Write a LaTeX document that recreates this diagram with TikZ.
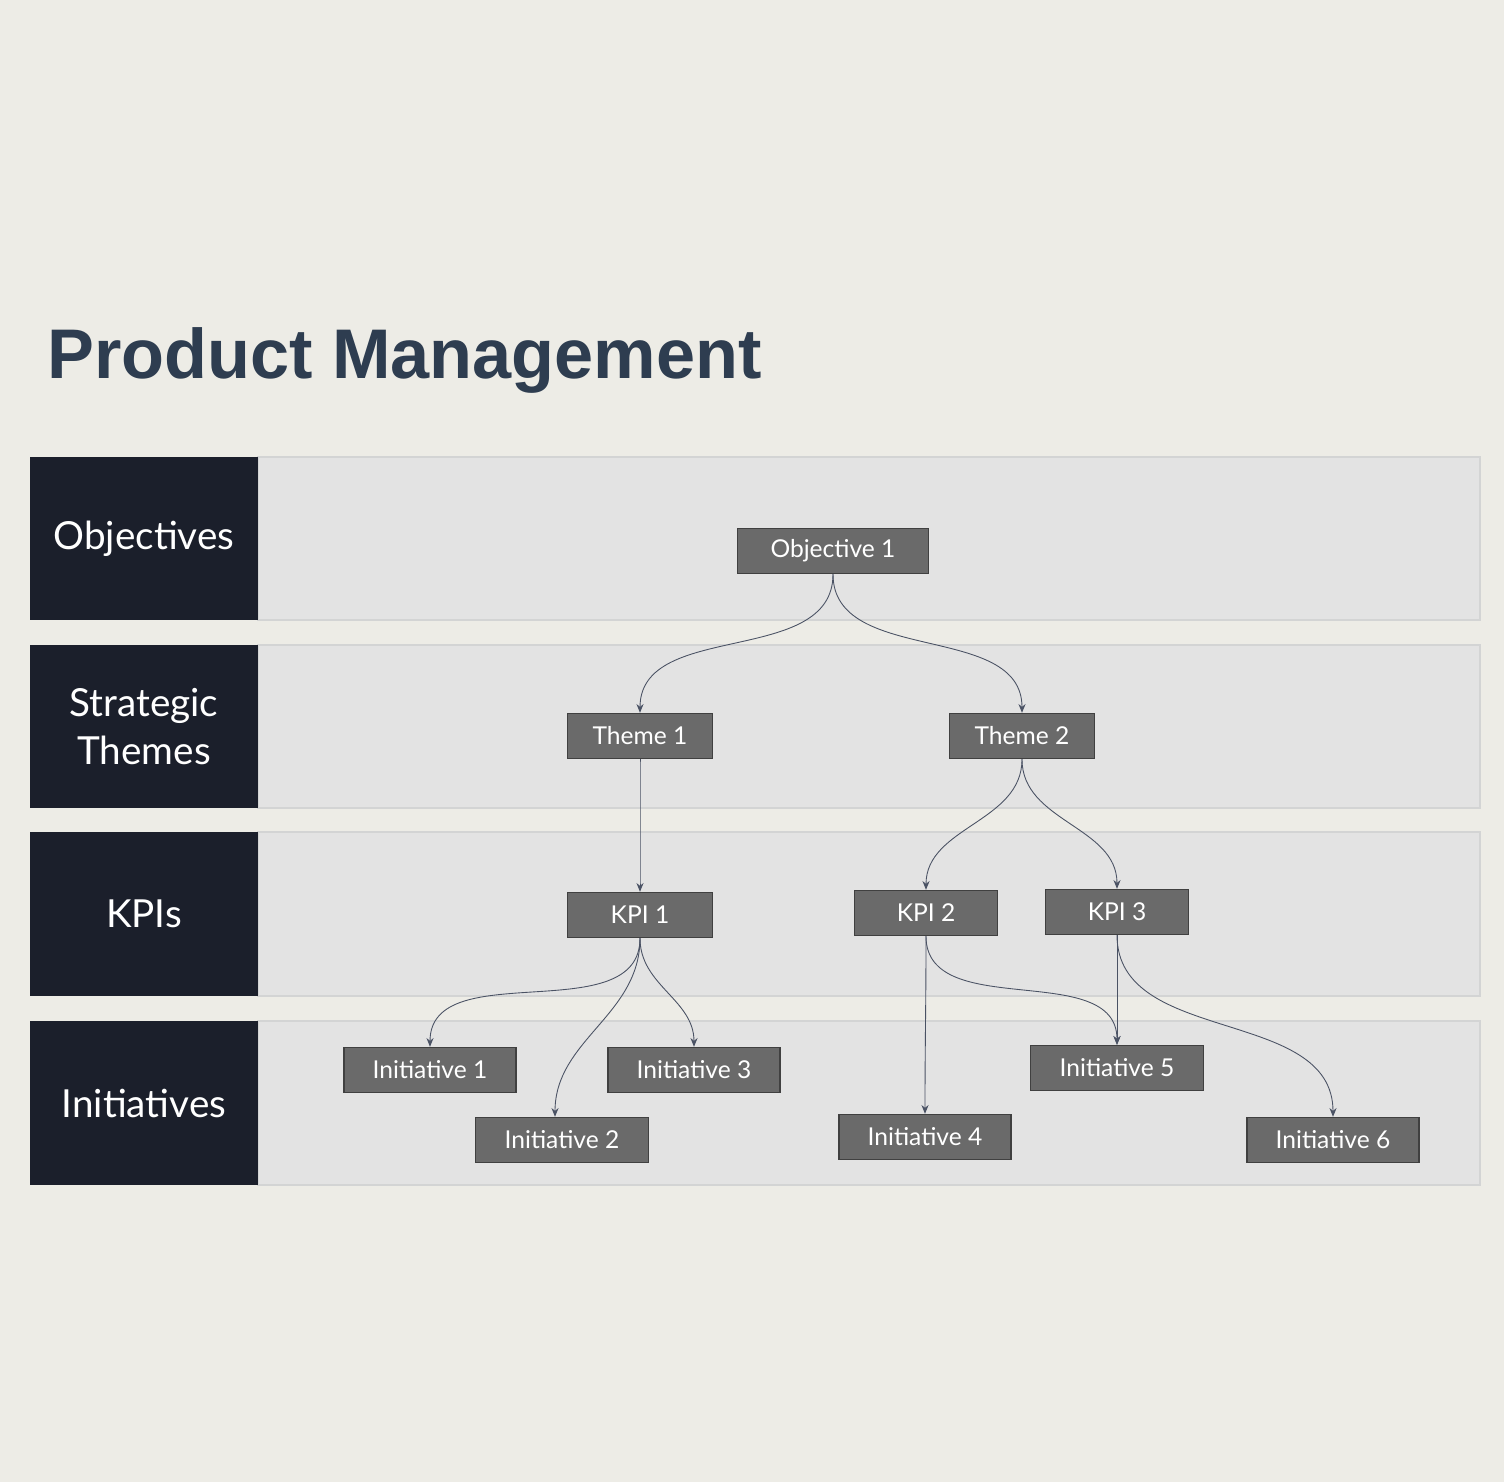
\documentclass[tikz,border=0pt]{standalone}
\usepackage{fontspec}
\usetikzlibrary{arrows.meta}
\setmainfont{Lato}
\newfontfamily\titlefont{Liberation Sans}
\definecolor{pagebg}{HTML}{EDECE6}
\definecolor{bandbg}{HTML}{E3E3E3}
\definecolor{bandline}{HTML}{D3D4D4}
\definecolor{labelbg}{HTML}{1B1F2B}
\definecolor{boxbg}{HTML}{6A6A6A}
\definecolor{titleblue}{HTML}{2E3D50}
\definecolor{linkcol}{HTML}{4A5264}
\begin{document}
\begin{tikzpicture}[x=0.02cm, y=-0.02cm,
    band/.style={fill=bandbg, draw=bandline, line width=0.8pt},
    rowlabel/.style={fill=labelbg, text=white, font=\fontsize{22}{27}\selectfont, align=center, inner sep=0pt},
    item/.style={rectangle, draw=black!75, fill=boxbg, text=white, line width=0.8pt, font=\fontsize{14}{16}\selectfont, minimum height=0.9cm, inner sep=0pt},
    link/.style={draw=linkcol, line width=0.5pt, -{Stealth[length=5pt,width=4pt]}, out=-90, in=90}]
    \fill[pagebg] (0,0) rectangle (1504,1482);
    \useasboundingbox (0,0) rectangle (1504,1482);
    \node[anchor=base west, text=titleblue, font=\titlefont\bfseries\fontsize{40}{44}\selectfont, inner sep=0pt] (title) at (47,378) {Product Management};
    % rows
    \foreach \top/\bot/\lbl [count=\i] in {457/620/Objectives, 645/808/Strategic\\Themes, 832/996/KPIs, 1021/1185/Initiatives} {
      \draw[band] (258,\top) rectangle (1480,\bot);
      \node[rowlabel, minimum width=4.56cm, minimum height={(\bot-\top)*0.02cm}] (row\i) at (144,{(\top+\bot)/2}) {\lbl};
    }
    % tree
    \node[item, minimum width=3.82cm] (obj1) at (833,551) {Objective 1};
    \node[item, minimum width=2.9cm] (theme1) at (640,736) {Theme 1};
    \node[item, minimum width=2.9cm] (theme2) at (1022,736) {Theme 2};
    \node[item, minimum width=2.9cm] (kpi1) at (640,915) {KPI 1};
    \node[item, minimum width=2.86cm] (kpi2) at (926,913) {KPI 2};
    \node[item, minimum width=2.86cm] (kpi3) at (1117,912) {KPI 3};
    \node[item, minimum width=3.44cm] (init1) at (430,1070) {Initiative 1};
    \node[item, minimum width=3.46cm] (init2) at (562,1140) {Initiative 2};
    \node[item, minimum width=3.44cm] (init3) at (694,1070) {Initiative 3};
    \node[item, minimum width=3.44cm] (init4) at (925,1137) {Initiative 4};
    \node[item, minimum width=3.46cm] (init5) at (1117,1068) {Initiative 5};
    \node[item, minimum width=3.44cm] (init6) at (1333,1140) {Initiative 6};
    \draw[link] (obj1.south) to (theme1.north);
    \draw[link] (obj1.south) to (theme2.north);
    \draw[link] (theme1.south) to (kpi1.north);
    \draw[link] (theme2.south) to (kpi2.north);
    \draw[link] (theme2.south) to (kpi3.north);
    \draw[link] (kpi1.south) to (init1.north);
    \draw[link] (kpi1.south) to ([xshift=-0.14cm]init2.north);
    \draw[link] (kpi1.south) to (init3.north);
    \draw[link] (kpi2.south) to (init4.north);
    \draw[link] (kpi2.south) to (init5.north);
    \draw[link] (kpi3.south) to (init5.north);
    \draw[link] (kpi3.south) to (init6.north);
\end{tikzpicture}
\end{document}
